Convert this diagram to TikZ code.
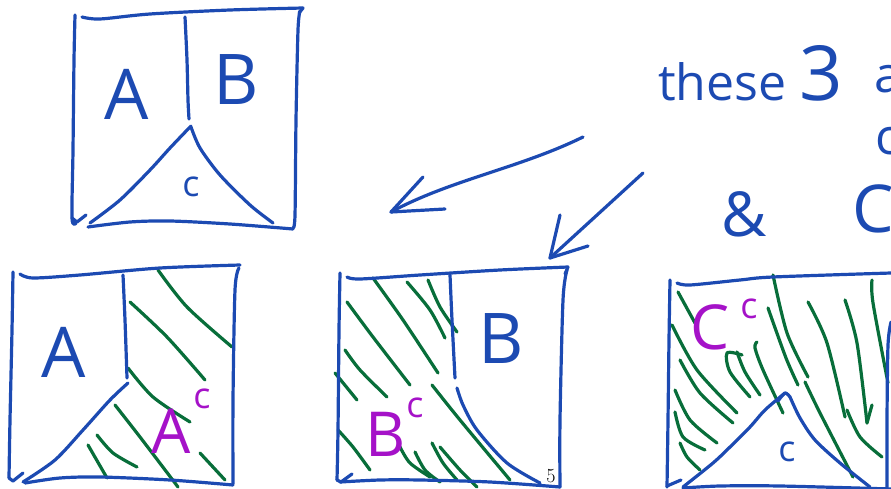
\documentclass[tikz,border=0pt]{standalone}
\usepackage{fontspec}
\setmainfont{Open Sans}
\newfontfamily\serifnum{Latin Modern Roman}
\definecolor{penblue}{RGB}{28,74,178}
\definecolor{pengreen}{RGB}{8,110,58}
\definecolor{penmagenta}{RGB}{165,18,200}
\tikzset{
  ink/.style={line width=3.2pt, line cap=round, line join=round},
  blueink/.style={ink, draw=penblue},
  greenink/.style={ink, draw=pengreen},
  bluelabel/.style={text=penblue, inner sep=0pt},
  pinklabel/.style={text=penmagenta, inner sep=0pt},
  big/.style={font=\fontsize{70}{70}\selectfont},
  mid/.style={font=\fontsize{62}{62}\selectfont},
  small/.style={font=\fontsize{36}{36}\selectfont},
}
\begin{document}
\begin{tikzpicture}[x=1pt,y=-1pt]
\path[use as bounding box] (0,0) rectangle (891,489);
\clip (0,0) rectangle (891,489);

% ---------- top-left: A, B, c ----------
\draw[blueink] plot[smooth] coordinates {(75,15) (74,60) (73,150) (72,218) (76,223)};
\draw[blueink] (72,218) -- (77,222) -- (86,215);
\draw[blueink] plot[smooth] coordinates {(82,17) (100,19) (150,14) (230,10) (303,8)};
\draw[blueink] (303,8) -- (299,13);
\draw[blueink] plot[smooth] coordinates {(300,11) (298,30) (296,120) (295,215) (293,228)};
\draw[blueink] plot[smooth] coordinates {(88,227) (130,222) (170,221) (230,224) (293,229)};
\draw[blueink] plot[smooth] coordinates {(185,17) (187,60) (188,100) (189,119)};
\draw[blueink] plot[smooth] coordinates {(191,126) (170,148) (150,170) (120,200) (90,223)};
\draw[blueink] plot[smooth] coordinates {(191,127) (200,148) (220,175) (250,205) (273,223)};
\node[bluelabel,big] (tA) at (127,94) {A};
\node[bluelabel,big] (tB) at (236,80) {B};
\node[bluelabel,small] (tC) at (191,187) {c};

% ---------- arrows ----------
\coordinate (a1s) at (583,137);
\coordinate (a1t) at (391,212);
\draw[blueink] (a1s) .. controls (520,168) and (450,180) .. (a1t);
\draw[blueink] (a1t) -- (423,177);
\draw[blueink] (a1t) -- (445,209);
\coordinate (a2s) at (643,173);
\coordinate (a2t) at (550,258);
\draw[blueink] (a2s) -- (a2t);
\draw[blueink] (a2t) -- (560,215);
\draw[blueink] (a2t) -- (588,246);

% ---------- words on the right ----------
\node[bluelabel,font=\fontsize{50}{50}\selectfont,anchor=base west] (words) at (658,101)
  {these {\fontsize{76}{76}\selectfont 3}};
\node[bluelabel,font=\fontsize{50}{50}\selectfont,anchor=base west] (wa) at (874,93) {a};
\node[bluelabel,font=\fontsize{50}{50}\selectfont,anchor=base west] (wc) at (875,155) {c};
\node[bluelabel,font=\fontsize{66}{66}\selectfont,anchor=base west] (wcr) at (852,232) {Cr};
\node[bluelabel,font=\fontsize{62}{62}\selectfont] (amp) at (744,214) {\&};

% ---------- bottom-left: A and its complement ----------
\draw[greenink] plot[smooth] coordinates {(158,270) (187,307) (232,347)};
\draw[greenink] plot[smooth] coordinates {(130,302) (167,337) (205,380)};
\draw[greenink] plot[smooth] coordinates {(128,368) (153,397) (190,422)};
\draw[greenink] plot[smooth] coordinates {(115,405) (140,437) (178,487)};
\draw[greenink] plot[smooth] coordinates {(97,435) (113,453) (137,467)};
\draw[greenink] plot[smooth] coordinates {(88,445) (107,478)};
\draw[greenink] plot[smooth] coordinates {(200,453) (225,480)};
\draw[blueink] plot[smooth] coordinates {(13,272) (12,330) (10,420) (9,478)};
\draw[blueink] (9,478) -- (13,481) -- (23,473);
\draw[blueink] plot[smooth] coordinates {(20,274) (33,278) (80,275) (160,268) (240,265)};
\draw[blueink] plot[smooth] coordinates {(239,268) (235,290) (233,400) (233,484)};
\draw[blueink] plot[smooth] coordinates {(25,483) (60,478) (100,477) (170,480) (233,485)};
\draw[blueink] plot[smooth] coordinates {(123,275) (125,320) (127,378)};
\draw[blueink] plot[smooth] coordinates {(128,383) (110,400) (83,430) (55,460) (23,482)};
\node[bluelabel,big] (lA) at (64,352) {A};
\node[pinklabel,mid] (lAc) at (171,431) {A};
\node[pinklabel,small] (lAcs) at (202,399) {c};

% ---------- bottom-middle: B and its complement ----------
\draw[greenink] plot[smooth] coordinates {(373,278) (403,320) (438,373)};
\draw[greenink] plot[smooth] coordinates {(407,282) (430,310) (445,338)};
\draw[greenink] plot[smooth] coordinates {(428,280) (440,307) (457,332)};
\draw[greenink] plot[smooth] coordinates {(347,302) (373,337) (410,385)};
\draw[greenink] plot[smooth] coordinates {(345,350) (360,370) (387,397)};
\draw[greenink] plot[smooth] coordinates {(335,373) (357,400)};
\draw[greenink] plot[smooth] coordinates {(432,385) (460,420) (510,480)};
\draw[greenink] plot[smooth] coordinates {(338,430) (353,447) (370,470)};
\draw[greenink] plot[smooth] coordinates {(400,447) (410,463) (430,477)};
\draw[greenink] plot[smooth] coordinates {(415,452) (425,470) (440,482)};
\draw[greenink] plot[smooth] coordinates {(432,443) (443,463) (457,480)};
\draw[greenink] plot[smooth] coordinates {(440,447) (460,470) (477,487)};
\draw[blueink] plot[smooth] coordinates {(340,273) (339,330) (338,430) (337,480)};
\draw[blueink] (337,480) -- (341,482) -- (352,474);
\draw[blueink] plot[smooth] coordinates {(347,277) (360,279) (420,275) (500,270) (568,267)};
\draw[blueink] (568,267) -- (565,274);
\draw[blueink] plot[smooth] coordinates {(567,270) (563,300) (560,420) (560,487)};
\draw[blueink] plot[smooth] coordinates {(340,482) (380,480) (420,480) (490,482) (560,487)};
\draw[blueink] plot[smooth] coordinates {(450,275) (452,320) (455,378)};
\draw[blueink] plot[smooth] coordinates {(457,388) (463,405) (477,430) (507,463) (540,483)};
\node[bluelabel,big] (mB) at (501,339) {B};
\node[pinklabel,mid] (mBc) at (386,434) {B};
\node[pinklabel,small] (mBcs) at (415,408) {c};
\node[inner sep=0pt,font=\serifnum\fontsize{20}{20}\selectfont,anchor=base] (pnum) at (551,482) {5};

% ---------- bottom-right: C and its complement ----------
\draw[greenink] plot[smooth] coordinates {(773,275) (787,333) (808,377)};
\draw[greenink] plot[smooth] coordinates {(768,308) (786,358) (798,385)};
\draw[greenink] plot[smooth] coordinates {(808,302) (827,343) (845,417)};
\draw[greenink] plot[smooth] coordinates {(845,300) (857,343) (867,423)};
\draw[greenink] (867,423) -- (872,405);
\draw[greenink] plot[smooth] coordinates {(872,280) (873,303) (888,383)};
\draw[greenink] plot[smooth] coordinates {(805,382) (820,413) (853,477)};
\draw[greenink] plot[smooth] coordinates {(847,410) (860,437) (882,457)};
\draw[greenink] plot[smooth] coordinates {(678,292) (695,323)};
\draw[greenink] plot[smooth] coordinates {(672,325) (697,370) (737,413)};
\draw[greenink] plot[smooth] coordinates {(680,360) (700,393) (733,423)};
\draw[greenink] plot[smooth] coordinates {(675,390) (690,420) (717,443)};
\draw[greenink] plot[smooth] coordinates {(675,412) (683,437) (705,450)};
\draw[greenink] plot[smooth] coordinates {(680,443) (687,457) (700,470)};
\draw[greenink] plot[smooth] coordinates {(742,355) (727,353) (730,372) (750,397)};
\draw[greenink] plot[smooth] coordinates {(737,352) (745,372) (760,395)};
\draw[greenink] plot[smooth] coordinates {(757,342) (755,348) (763,370) (783,413)};
\draw[blueink] plot[smooth] coordinates {(670,280) (669,340) (668,420) (667,487)};
\draw[blueink] (667,486) -- (681,480);
\draw[blueink] plot[smooth] coordinates {(677,283) (690,285) (740,280) (773,277) (891,273)};
\draw[blueink] plot[smooth] coordinates {(891,322) (888,345) (887,420) (887,489)};
\draw[blueink] plot[smooth] coordinates {(683,488) (720,486) (780,486) (891,489)};
\draw[blueink] plot[smooth] coordinates {(785,393) (765,410) (750,427) (730,447) (713,463) (683,487)};
\draw[blueink] plot[smooth] coordinates {(778,401) (785,393) (790,397)};
\draw[blueink] plot[smooth] coordinates {(790,397) (800,418) (815,440) (840,463) (870,487)};
\node[bluelabel,small] (rC) at (787,452) {c};
\node[pinklabel,mid] (rCc) at (710,327) {C};
\node[pinklabel,small] (rCcs) at (749,309) {c};
\end{tikzpicture}
\end{document}
